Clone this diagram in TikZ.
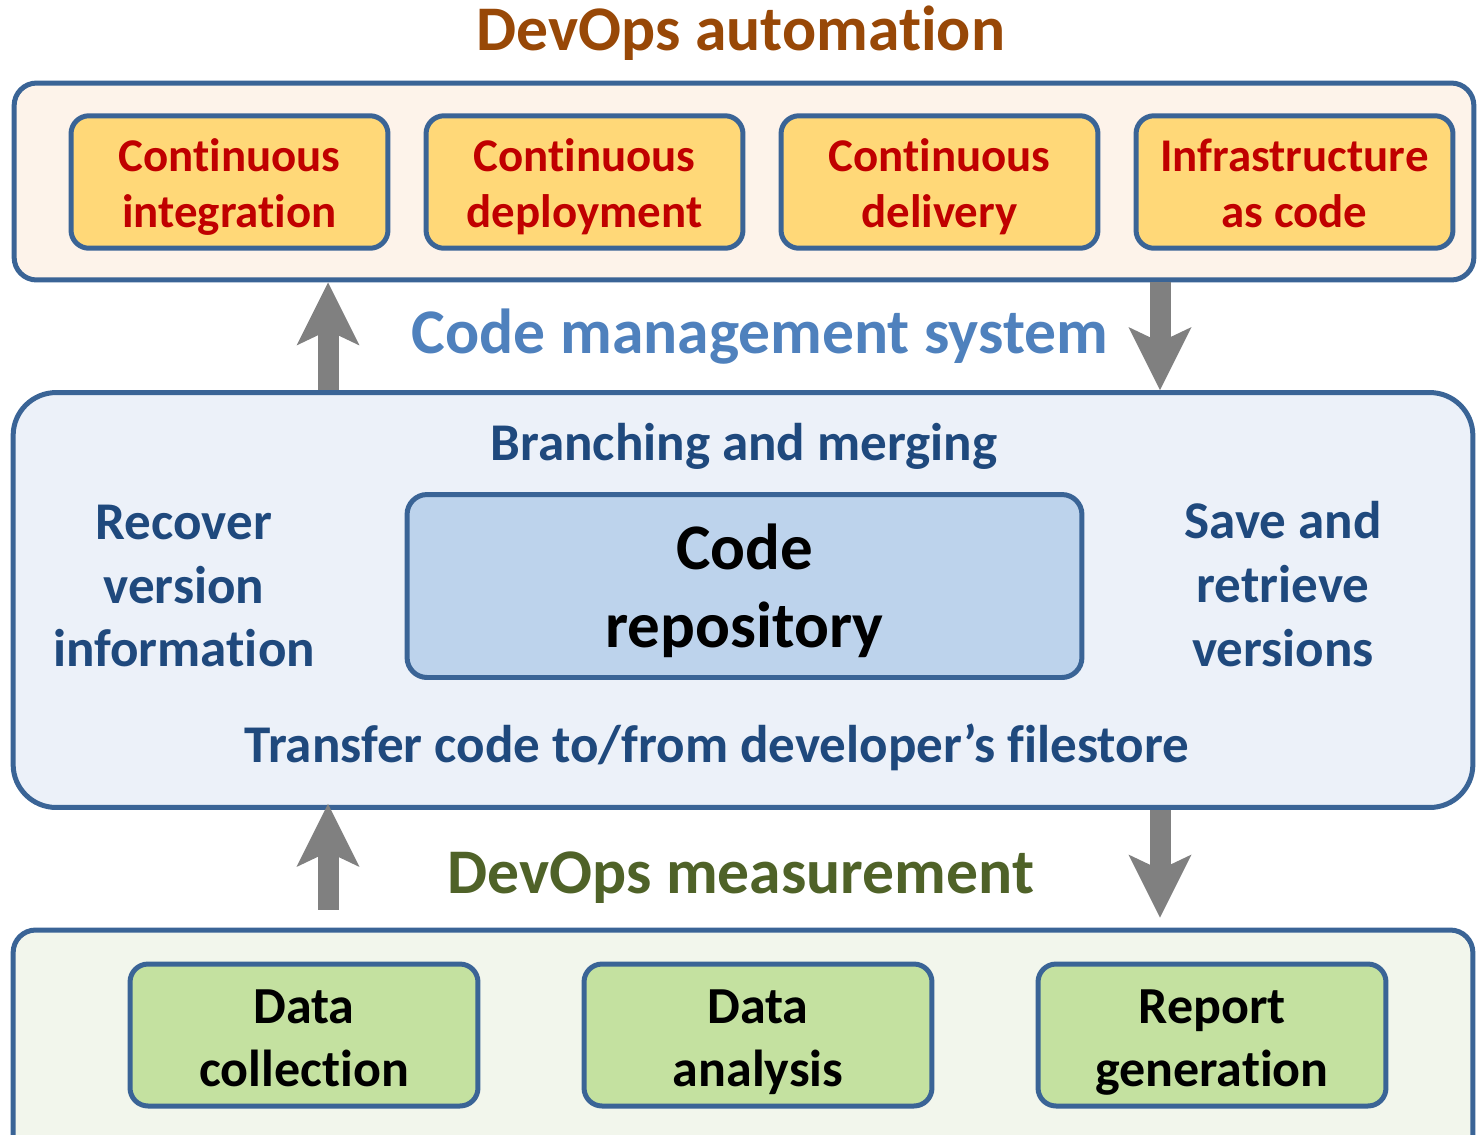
\documentclass[tikz,border=0pt]{standalone}
\usepackage{fontspec}
\setmainfont{Carlito}[Ligatures=NoCommon]
\usetikzlibrary{arrows.meta}
\definecolor{boxline}{HTML}{3A6496}
\definecolor{autofill}{HTML}{FDF3EA}
\definecolor{taskfill}{HTML}{FFD878}
\definecolor{taskred}{HTML}{C00000}
\definecolor{cmsfill}{HTML}{ECF1F9}
\definecolor{repofill}{HTML}{BDD3EC}
\definecolor{cmsblue}{HTML}{1F497D}
\definecolor{measfill}{HTML}{F2F6EC}
\definecolor{stepgreen}{HTML}{C4E1A0}
\definecolor{titlebrown}{HTML}{984807}
\definecolor{titleblue}{HTML}{4F81BD}
\definecolor{titlegreen}{HTML}{4F6228}
\definecolor{arrowgray}{HTML}{808080}
\newcommand{\twoline}[2]{\rule{0pt}{1.12em}#1\\#2\strut}

\begin{document}
\begin{tikzpicture}[x=0.02cm,y=-0.02cm,
  outerbox/.style={draw=boxline,line width=0.1cm,rectangle,minimum width=29.2cm},
  taskbox/.style={draw=boxline,line width=0.1cm,rectangle,rounded corners=0.36cm,fill=taskfill,text=taskred,inner sep=0pt,
    minimum width=6.34cm,minimum height=2.65cm,align=center,font=\bfseries\fontsize{26.7}{31.9}\selectfont},
  stepbox/.style={draw=boxline,line width=0.1cm,rectangle,rounded corners=0.36cm,fill=stepgreen,inner sep=0pt,
    minimum width=6.96cm,minimum height=2.84cm,align=center,font=\bfseries\fontsize{29.6}{35.9}\selectfont},
  titletext/.style={font=\bfseries\fontsize{36.2}{43}\selectfont},
  cmstext/.style={text=cmsblue,align=center,font=\bfseries\fontsize{30.2}{36.4}\selectfont},
  bigarrow/.style={draw=arrowgray,line width=0.42cm,-{Stealth[length=1.26cm,width=1.26cm,inset=0.3cm,line width=0pt]}}]
\clip (0,0) rectangle (1477,1134);
% DevOps automation
\node[titletext,text=titlebrown] (T1) at (741,33) {DevOps automation};
\node[outerbox,fill=autofill,rounded corners=0.45cm,minimum height=3.94cm] (AUTO) at (744,181.5) {};
\node[taskbox] (CI) at (229.5,182) {\twoline{Continuous}{integration}};
\node[taskbox] (CDP) at (584.5,182) {\twoline{Continuous}{deployment}};
\node[taskbox] (CDL) at (939.5,182) {\twoline{Continuous}{delivery}};
\node[taskbox] (IAC) at (1294.5,182) {\twoline{Infrastructure}{as code}};
% Code management system
\node[titletext,text=titleblue] (T2) at (760,337) {Code management system};
\node[outerbox,fill=cmsfill,rounded corners=0.86cm,minimum height=8.3cm] (CMS) at (743,600) {};
\node[cmstext] (BRM) at (744,446) {Branching and merging};
\node[draw=boxline,line width=0.1cm,rectangle,rounded corners=0.4cm,fill=repofill,minimum width=13.5cm,minimum height=3.66cm,
  align=center,font=\bfseries\fontsize{37}{44.4}\selectfont] (REPO) at (744.5,586) {\rule{0pt}{39pt}Code\\repository\strut};
\node[cmstext] (REC) at (184,586) {Recover\\version\\information};
\node[cmstext] (SAV) at (1283,584) {Save and\\retrieve\\versions};
\node[cmstext] (TRF) at (717,747) {Transfer code to/from developer’s filestore};
% DevOps measurement
\node[titletext,text=titlegreen] (T3) at (741,878) {DevOps measurement};
\node[outerbox,fill=measfill,rounded corners=0.45cm,minimum height=4.6cm] (MEAS) at (743,1045) {};
\node[stepbox] (DC) at (304,1035) {\twoline{Data}{collection}};
\node[stepbox] (DA) at (758,1035) {\twoline{Data}{analysis}};
\node[stepbox] (RG) at (1212,1035) {\twoline{Report}{generation}};
% arrows
\coordinate (AL) at (328,0);
\coordinate (AR) at (1160,0);
\draw[bigarrow] (AL |- CMS.north) -- (AL |- AUTO.south);
\draw[bigarrow] (AR |- AUTO.south) -- (AR |- CMS.north);
\draw[bigarrow,shorten <=0.36cm,shorten >=-0.12cm] (AL |- MEAS.north) -- (AL |- CMS.south);
\draw[bigarrow,shorten >=0.2cm] (AR |- CMS.south) -- (AR |- MEAS.north);
\end{tikzpicture}
\end{document}
